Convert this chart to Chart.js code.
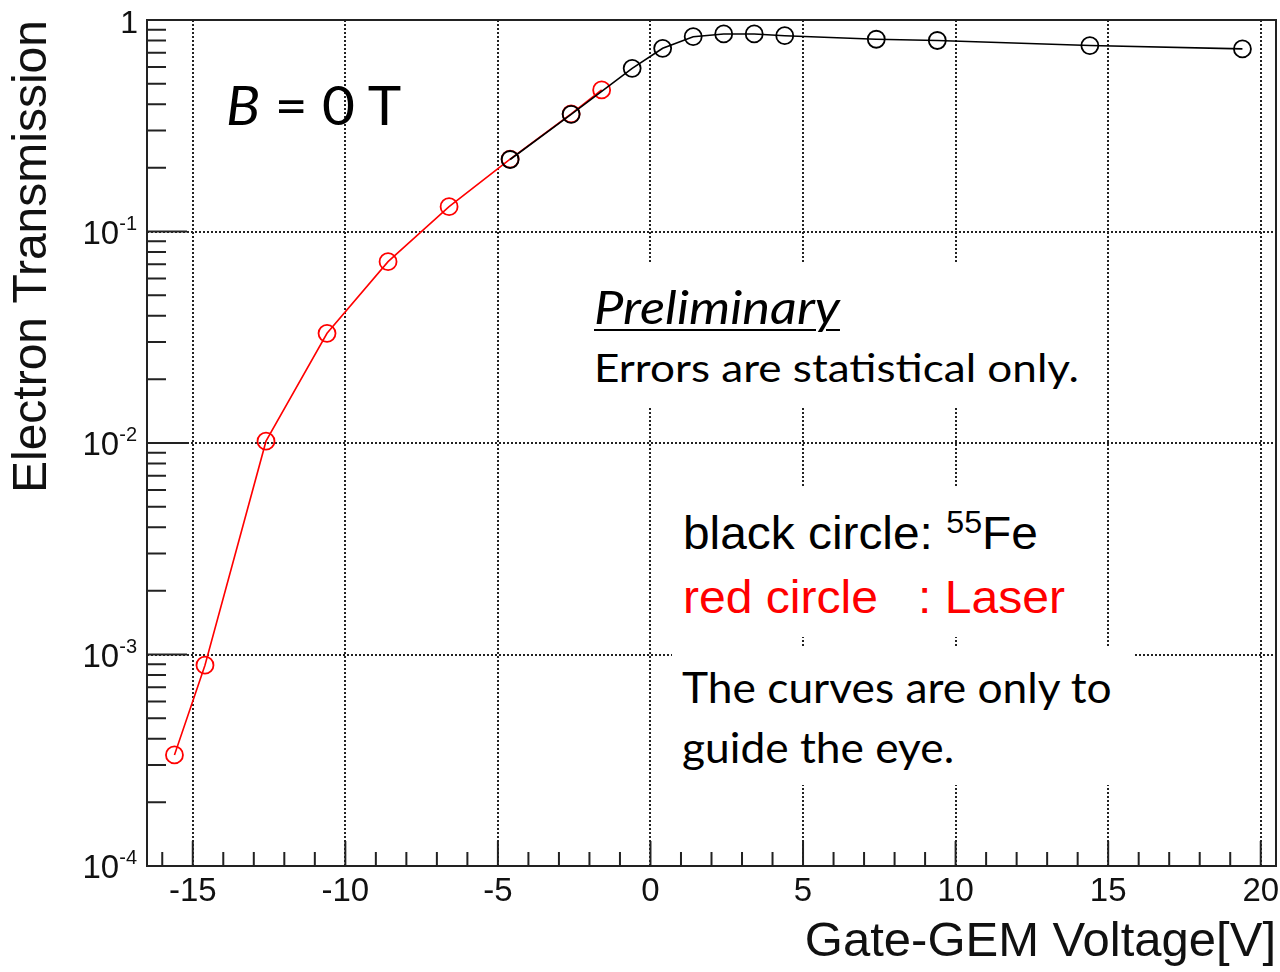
<!DOCTYPE html>
<html lang="en">
<head>
<meta charset="UTF-8">
<title>Electron Transmission vs Gate-GEM Voltage</title>
<script src="https://cdn.jsdelivr.net/npm/chart.js"></script>
<style>
  html, body { margin: 0; padding: 0; background: #fff; }
  #wrap { position: relative; width: 1280px; height: 972px; overflow: hidden; }
  canvas { position: absolute; left: 0; top: 0; }
  .box { position: absolute; background: #fff; }
  .txt { position: absolute; white-space: pre; line-height: 1; color: #000; transform-origin: left top; }
  .cal { font-family: Lato, "Open Sans", sans-serif; }
  .ari { font-family: "Liberation Sans", Arial, sans-serif; }
  .sup { font-size: 31px; vertical-align: 16px; line-height: 0; }
</style>
</head>
<body>
<div id="wrap">
  <canvas id="chart" width="1280" height="972"></canvas>

  <!-- white panels behind the annotations hide the grid, like in the slide -->
  <div class="box" style="left:585px;top:263px;width:505px;height:144px"></div>
  <div class="box" style="left:672px;top:487px;width:420px;height:150px"></div>
  <div class="box" style="left:672px;top:648px;width:463px;height:137px"></div>

  <div class="txt cal" style="left:226px;top:78px;font-size:54px;transform:scaleX(1.05)"><i>B</i> = 0 T</div>
  <div class="txt cal" style="left:594px;top:284px;font-size:46px;font-style:italic;text-decoration:underline;text-decoration-thickness:2px;text-underline-offset:5px;transform:scaleX(1.14)">Preliminary</div>
  <div class="txt cal" style="left:594px;top:348px;font-size:39px;transform:scaleX(1.13)">Errors are statistical only.</div>
  <div class="txt ari" style="left:683px;top:510px;font-size:46px;transform:scaleX(1.04)">black circle: <span class="sup">55</span>Fe</div>
  <div class="txt ari" style="left:683px;top:574px;font-size:46px;color:#ff0000;transform:scaleX(1.045)">red circle   : Laser</div>
  <div class="txt cal" style="left:682px;top:666px;font-size:42px;transform:scaleX(1.055)">The curves are only to</div>
  <div class="txt cal" style="left:682px;top:726px;font-size:42px;transform:scaleX(1.055)">guide the eye.</div>
</div>

<script>
  // 55Fe (black circles)
  const fe55Voltage = [-4.6, -2.6, -0.6, 0.4, 1.4, 2.4, 3.4, 4.4, 7.4, 9.4, 14.4, 19.4];
  const fe55Transmission = [0.219, 0.358, 0.591, 0.735, 0.834, 0.859, 0.859, 0.843, 0.811, 0.800, 0.757, 0.730];

  // Laser (red circles)
  const laserVoltage = [-15.6, -14.6, -12.6, -10.6, -8.6, -6.6, -4.6, -2.6, -1.6];
  const laserTransmission = [0.000335, 0.00089, 0.0102, 0.033, 0.072, 0.131, 0.22, 0.36, 0.467];

  // axis ticks
  const xMajorTicks = [-15, -10, -5, 0, 5, 10, 15, 20];
  const yDecades = [1e-4, 1e-3, 1e-2, 1e-1, 1];
  const yDecadeLabels = ['-4', '-3', '-2', '-1', ''];

  const toPoints = (xs, ys) => xs.map((x, i) => ({ x: x, y: ys[i] }));

  // ROOT-like frame, inward ticks and 10^n labels
  const rootAxes = {
    id: 'rootAxes',
    afterDraw(chart) {
      const ctx = chart.ctx;
      const area = chart.chartArea;
      const xs = chart.scales.x;
      const ys = chart.scales.y;
      ctx.save();
      ctx.strokeStyle = '#222';
      ctx.lineWidth = 2;

      // y ticks
      ctx.beginPath();
      yDecades.forEach((d, i) => {
        const py = ys.getPixelForValue(d);
        ctx.moveTo(area.left, py);
        ctx.lineTo(area.left + 40, py);
        if (i < yDecades.length - 1) {
          for (let m = 2; m <= 9; m++) {
            const my = ys.getPixelForValue(m * d);
            ctx.moveTo(area.left, my);
            ctx.lineTo(area.left + 19, my);
          }
        }
      });
      // x ticks
      for (let v = -16; v <= 20; v++) {
        const px = xs.getPixelForValue(v);
        const len = v % 5 === 0 ? 25 : 14;
        ctx.moveTo(px, area.bottom);
        ctx.lineTo(px, area.bottom - len);
      }
      ctx.stroke();

      ctx.strokeRect(area.left, area.top, area.right - area.left, area.bottom - area.top);

      // y labels
      ctx.fillStyle = '#111';
      ctx.textBaseline = 'alphabetic';
      ctx.textAlign = 'left';
      const right = 137;
      yDecades.forEach((d, i) => {
        const py = ys.getPixelForValue(d);
        const exp = yDecadeLabels[i];
        if (exp === '') {
          ctx.font = '32px "Liberation Sans", Arial, sans-serif';
          const w = ctx.measureText('1').width;
          ctx.fillText('1', right + 1 - w, py + 13);
          return;
        }
        ctx.font = '20px "Liberation Sans", Arial, sans-serif';
        const we = ctx.measureText(exp).width;
        ctx.fillText(exp, right - we, py - 2);
        ctx.font = '33px "Liberation Sans", Arial, sans-serif';
        const wb = ctx.measureText('10').width;
        ctx.fillText('10', right - we - wb, py + 12);
      });
      ctx.restore();
    }
  };

  new Chart(document.getElementById('chart'), {
    type: 'line',
    data: {
      datasets: [
        {
          label: '55Fe',
          data: toPoints(fe55Voltage, fe55Transmission),
          borderColor: '#000',
          borderWidth: 1.6,
          pointRadius: 8.5,
          pointBorderWidth: 1.8,
          pointBorderColor: '#000',
          pointBackgroundColor: 'rgba(0,0,0,0)',
          fill: false,
          tension: 0
        },
        {
          label: 'Laser',
          data: toPoints(laserVoltage, laserTransmission),
          borderColor: '#ff0000',
          borderWidth: 1.6,
          pointRadius: 8.5,
          pointBorderWidth: 1.8,
          pointBorderColor: '#ff0000',
          pointBackgroundColor: 'rgba(0,0,0,0)',
          fill: false,
          tension: 0
        }
      ]
    },
    options: {
      responsive: false,
      animation: false,
      layout: { autoPadding: false, padding: { top: 20, right: 4, left: 0, bottom: 0 } },
      plugins: {
        legend: { display: false },
        tooltip: { enabled: false }
      },
      scales: {
        x: {
          type: 'linear',
          min: -16.5,
          max: 20.5,
          afterBuildTicks: s => { s.ticks = xMajorTicks.map(v => ({ value: v })); },
          afterFit: s => { s.height = 106; s.paddingLeft = 0; s.paddingRight = 0; },
          grid: { color: '#222', lineWidth: 2, drawTicks: false },
          border: { display: false, dash: [2, 2] },
          ticks: {
            font: { family: '"Liberation Sans", Arial, sans-serif', size: 33 },
            color: '#111',
            padding: 6,
            maxRotation: 0,
            autoSkip: false
          },
          title: {
            display: true,
            text: 'Gate-GEM Voltage[V]',
            align: 'end',
            color: '#111',
            font: { family: '"Liberation Sans", Arial, sans-serif', size: 49 },
            padding: 0
          }
        },
        y: {
          type: 'logarithmic',
          min: 1e-4,
          max: 1,
          afterBuildTicks: s => { s.ticks = yDecades.map(v => ({ value: v })); },
          afterFit: s => { s.width = 147; },
          grid: { color: '#222', lineWidth: 2, drawTicks: false },
          border: { display: false, dash: [2, 2] },
          ticks: { display: false },
          title: {
            display: true,
            text: 'Electron Transmission',
            align: 'end',
            color: '#111',
            font: { family: '"Liberation Sans", Arial, sans-serif', size: 48 },
            padding: { top: 4, bottom: 0 }
          }
        }
      }
    },
    plugins: [rootAxes]
  });
</script>
</body>
</html>
